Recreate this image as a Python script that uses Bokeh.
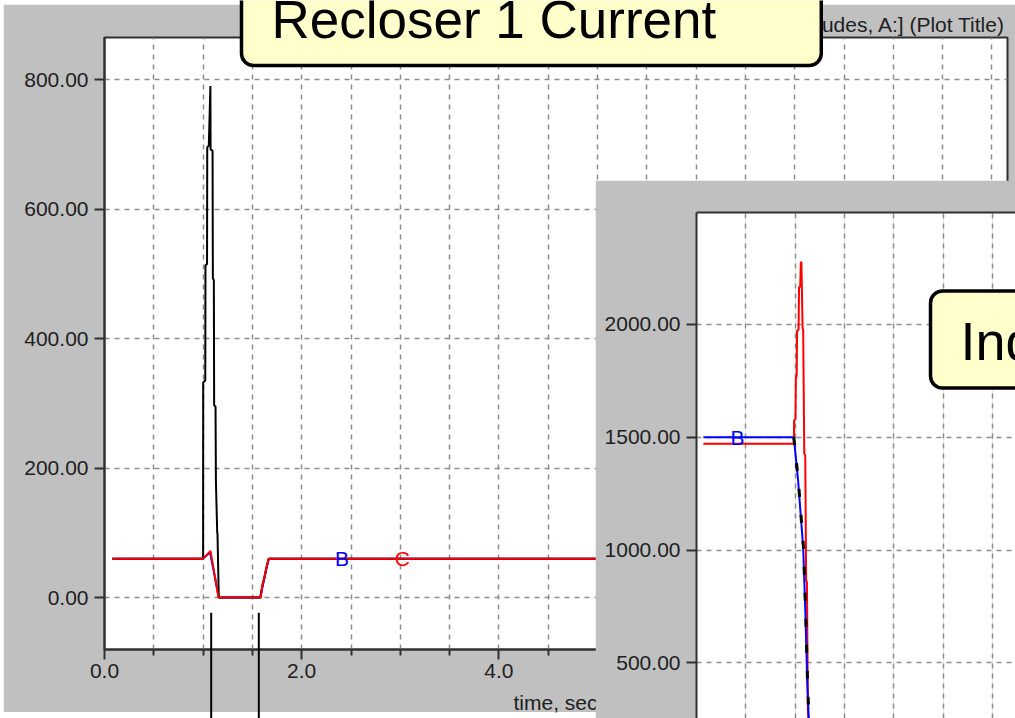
from bokeh.plotting import figure
from bokeh.models import (FixedTicker, Label, Grid, Range1d, LinearAxis,
                          PrintfTickFormatter, ColumnDataSource)
from bokeh.embed import file_html
from bokeh.resources import INLINE
from bokeh.core.properties import value

# ---------------- data ----------------
# Panel 1: Recloser 1 current (A), time in seconds
t1_a = [0.08, 1.000, 1.001, 1.022, 1.024, 1.040, 1.042, 1.058, 1.074, 1.076, 1.096, 1.099,
        1.109, 1.112, 1.126, 1.130, 1.143, 1.146, 1.159, 1.58, 1.60, 1.62, 1.64, 1.665, 9.2]
i1_a = [60, 60, 332, 335, 513, 515, 695, 698, 790, 692, 690, 493,
        490, 297, 295, 180, 100, 99, 0, 0, 18, 30, 45, 60, 60]
t1_b = [0.08, 1.00, 1.07, 1.16, 1.58, 1.665, 9.2]
i1_b = [60, 60, 70, 0, 0, 60, 60]
t1_c = [0.08, 1.00, 1.075, 1.156, 1.585, 1.60, 1.62, 1.64, 1.667, 9.2]
i1_c = [60, 60, 72, 0, 0, 18, 30, 45, 60, 60]
p1_marker_text = ["B", "C"]
p1_marker_t = [2.41, 3.02]
p1_marker_i = [60, 60]
p1_marker_color = ["#0000ff", "#ff0000"]
event_times = [1.082, 1.565]
p1_x_ticks = [0, 2, 4, 6, 8]
p1_x_minor = [0.5, 1.0, 1.5, 2.5, 3.0, 3.5, 4.5, 5.0, 5.5, 6.5, 7.0, 7.5, 8.5, 9.0]
p1_y_ticks = [0, 200, 400, 600, 800]
p1_title = "[Recloser 1 Current Magnitudes, A:] (Plot Title)"
p1_xlabel = "time, sec"
callout1 = "Recloser 1 Current"

# Panel 2: second current plot (A)
t2_b = [0.07, 0.986, 0.997, 1.031, 1.082, 1.105, 1.123, 1.136, 1.16]
i2_b = [1500, 1500, 1455, 1306, 1010, 713, 416, 283, 100]
t2_c = [0.07, 0.987, 0.990, 1.004, 1.008, 1.016, 1.020, 1.035, 1.040, 1.052, 1.058, 1.064,
        1.076, 1.082, 1.093, 1.103, 1.112, 1.120, 1.130, 1.16]
i2_c = [1471, 1471, 1574, 1580, 1766, 1770, 1972, 1976, 2164, 2168, 2275, 2275,
        1982, 1978, 1427, 1420, 862, 858, 283, 100]
t2_a = [0.986, 0.998, 1.033, 1.085, 1.108, 1.126, 1.138, 1.16]
i2_a = [1500, 1455, 1306, 1010, 713, 416, 283, 100]
p2_marker_text = ["B"]
p2_marker_t = [0.416]
p2_marker_i = [1500]
p2_x_grid = [0.5, 1.0, 1.5, 2.0, 2.5, 3.0]
p2_y_ticks = [500, 1000, 1500, 2000]
callout2 = "Ind"

# ---------------- styling helpers ----------------
FONT = "Liberation Sans"
GREY = "#c0c0c0"
DARK = "#303030"
GRIDC = "#8c8c8c"

# page-pixel -> data helpers
def t1(px):
    return (px - 104) / 98.6

def v1(py):
    return (597 - py) / 0.6475

def t2(px):
    return (px - 696) / 98.6

def v2(py):
    return 1500 + (436.7 - py) / 0.2256


def place(fig, left, top):
    fig.styles = {"position": "absolute", "left": f"{left}px", "top": f"{top}px"}


def overlay(width, height, x_range, y_range):
    f = figure(width=width, height=height, x_range=x_range, y_range=y_range,
               output_backend="svg", toolbar_location=None, x_axis_location=None,
               y_axis_location=None, min_border=0, border_fill_color=None,
               background_fill_color=None, outline_line_color=None)
    f.xgrid.visible = False
    f.ygrid.visible = False
    return f


def style_axis(ax):
    ax.axis_line_color = DARK
    ax.axis_line_width = 2
    ax.major_tick_line_color = DARK
    ax.major_tick_line_width = 2
    ax.minor_tick_line_color = DARK
    ax.minor_tick_line_width = 2
    ax.major_tick_in = 0
    ax.major_tick_out = 10
    ax.minor_tick_in = 0
    ax.minor_tick_out = 6
    ax.major_label_text_font = FONT
    ax.major_label_text_font_size = "21px"
    ax.major_label_text_color = "#202020"


# ---------------- panel 1 (page x 3..1015, y 4..712) ----------------
p1 = figure(width=1012, height=708, x_range=Range1d(0, t1(1007)), y_range=Range1d(v1(649), v1(37)),
            output_backend="svg", toolbar_location=None,
            min_border_left=101, min_border_right=8, min_border_top=33, min_border_bottom=63,
            border_fill_color=GREY, background_fill_color="white",
            outline_line_color=DARK, outline_line_width=2)

p1.xaxis.ticker = FixedTicker(ticks=p1_x_ticks, minor_ticks=p1_x_minor)
p1.yaxis.ticker = FixedTicker(ticks=p1_y_ticks, minor_ticks=[])
p1.xaxis.formatter = PrintfTickFormatter(format="%.1f")
p1.yaxis.formatter = PrintfTickFormatter(format="%.2f")
for ax in (p1.xaxis[0], p1.yaxis[0]):
    style_axis(ax)
p1.xaxis.major_label_standoff = 4
p1.yaxis.major_label_standoff = 6

for g in (p1.xgrid[0], p1.ygrid[0]):
    g.grid_line_color = GRIDC
    g.grid_line_dash = "5 5"
    g.grid_line_width = 1.5
p1.xgrid.minor_grid_line_color = GRIDC
p1.xgrid.minor_grid_line_dash = "5 5"
p1.xgrid.minor_grid_line_width = 1.5

p1.line(t1_b, i1_b, line_color="#0000ff", line_width=2)
p1.line(t1_a, i1_a, line_color="black", line_width=2)
p1.line(t1_c, i1_c, line_color="#ff0000", line_width=2)

src1 = ColumnDataSource(dict(x=p1_marker_t, y=p1_marker_i, text=p1_marker_text, color=p1_marker_color))
p1.text(x="x", y="y", text="text", text_color="color", source=src1, text_align="center",
        text_baseline="middle", text_font=value(FONT), text_font_size="21px")
place(p1, 3, 4)

# ---------------- event marker lines (page x 195..265, y 612..718) ----------------
p3 = overlay(70, 106, Range1d(t1(195), t1(265)), Range1d(0, 1))
p3.segment(x0=event_times, y0=[0] * len(event_times), x1=event_times, y1=[1] * len(event_times),
           line_color="black", line_width=2)
place(p3, 195, 612)

# ---------------- panel-1 title and x-axis caption (page-pixel overlay) ----------------
p5 = overlay(1015, 718, Range1d(0, 1015), Range1d(718, 0))
p5.text(x=[1005], y=[24], text=[p1_title], text_align="right", text_baseline="alphabetic",
        text_font=value(FONT), text_font_size="21px", text_color="#202020")
p5.text(x=[513], y=[702], text=[p1_xlabel], text_align="left", text_baseline="alphabetic",
        text_font=value(FONT), text_font_size="21px", text_color="#202020")
place(p5, 0, 0)

# ---------------- callout for panel 1 (page x 230..830, y 0..72) ----------------
p4 = overlay(600, 72, Range1d(230, 830), Range1d(72, 0))
p4.add_layout(Label(x=241, y=12, text=callout1, text_align="left",
                    text_baseline="alphabetic", text_font=FONT, text_font_size="53px",
                    text_color="black", background_fill_color="#ffffcc",
                    border_line_color="black", border_line_width=3.5, border_radius=12,
                    padding=dict(left=30, right=105, top=30, bottom=17)))
place(p4, 230, 0)

# ---------------- panel 2 (page x 595..1015, y 180..718) ----------------
p2 = figure(width=420, height=538, x_range=Range1d(0, t2(1015)), y_range=Range1d(v2(718), v2(212)),
            output_backend="svg", toolbar_location=None, x_axis_location=None,
            min_border_left=101, min_border_right=0, min_border_top=32, min_border_bottom=0,
            border_fill_color=GREY, background_fill_color="white",
            outline_line_color=None)
p2.yaxis.ticker = FixedTicker(ticks=p2_y_ticks, minor_ticks=[])
p2.yaxis.formatter = PrintfTickFormatter(format="%.2f")
style_axis(p2.yaxis[0])
p2.yaxis.major_label_standoff = 6
top_ax = LinearAxis(ticker=FixedTicker(ticks=[], minor_ticks=[]), axis_line_color=DARK,
                    axis_line_width=2, major_tick_line_color=None, minor_tick_line_color=None,
                    major_label_text_font_size="0px")
p2.add_layout(top_ax, "above")

p2.ygrid.grid_line_color = GRIDC
p2.ygrid.grid_line_dash = "5 5"
p2.ygrid.grid_line_width = 1.5
p2.add_layout(Grid(dimension=0, ticker=FixedTicker(ticks=p2_x_grid), grid_line_color=GRIDC,
                   grid_line_dash="5 5", grid_line_width=1.5))

p2.line(t2_c, i2_c, line_color="#ff0000", line_width=2)
p2.line(t2_b, i2_b, line_color="#0000ff", line_width=2)
p2.line(t2_a, i2_a, line_color="black", line_width=3, line_dash="8 18")

src2 = ColumnDataSource(dict(x=p2_marker_t, y=p2_marker_i, text=p2_marker_text))
p2.text(x="x", y="y", text="text", text_color="#0000ff", source=src2, text_align="center",
        text_baseline="middle", text_font=value(FONT), text_font_size="21px")

p2.add_layout(Label(x=t2(930), y=v2(339), text=callout2, text_align="left",
                    text_baseline="alphabetic", text_font=FONT, text_font_size="54px",
                    text_color="black", background_fill_color="#ffffcc",
                    border_line_color="black", border_line_width=3.5, border_radius=12,
                    padding=dict(left=30, right=100, top=20, bottom=17)))
place(p2, 595, 180)

open("out.html", "w").write(file_html([p1, p3, p5, p4, p2], INLINE))
